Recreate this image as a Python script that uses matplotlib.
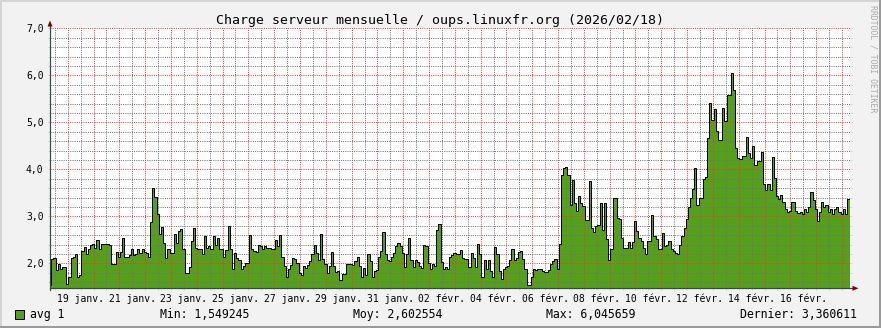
import numpy as np
import matplotlib
matplotlib.use("Agg")
import matplotlib.pyplot as plt
import matplotlib.dates as mdates
from matplotlib.patches import Polygon, Rectangle
from matplotlib.lines import Line2D
from matplotlib.ticker import MultipleLocator, FixedLocator
from datetime import datetime, timedelta

# ---------------- data ----------------
title = "Charge serveur mensuelle / oups.linuxfr.org (2026/02/18)"
series_name = "avg 1"

# 2-hour averages
load_values = [
    1.55, 2.10, 2.12, 1.85, 1.99, 1.89, 1.92, 1.93, 1.57, 1.72,
    2.12, 2.14, 2.20, 1.72, 1.75, 2.26, 2.35, 2.19, 2.30, 2.40,
    2.42, 2.32, 2.50, 2.30, 2.42, 2.42, 2.42, 2.41, 2.40, 1.98,
    1.98, 2.25, 2.14, 2.25, 2.54, 2.14, 2.14, 2.17, 2.30, 2.17,
    2.19, 2.30, 2.23, 2.30, 2.25, 2.23, 2.14, 2.88, 3.60, 3.42,
    3.06, 2.62, 2.78, 2.44, 2.12, 2.30, 2.23, 2.23, 2.62, 2.44,
    2.69, 2.74, 2.30, 1.79, 1.79, 1.92, 2.47, 2.75, 2.33, 2.30,
    2.30, 2.19, 2.59, 2.33, 2.38, 2.30, 2.59, 2.40, 2.54, 2.30,
    2.30, 2.14, 2.28, 2.79, 2.30, 1.87, 2.23, 2.12, 2.07, 1.89,
    1.94, 2.00, 2.01, 2.60, 2.30, 2.26, 2.25, 2.40, 2.38, 2.31,
    2.37, 2.33, 2.33, 2.31, 2.31, 2.49, 2.38, 2.60, 2.14, 1.94,
    1.72, 1.87, 1.96, 2.12, 2.10, 2.00, 1.80, 1.75, 1.94, 1.90,
    1.96, 2.05, 2.21, 2.40, 2.23, 2.08, 2.62, 2.10, 1.98, 1.80,
    1.94, 2.25, 1.94, 1.82, 1.84, 1.64, 1.78, 1.78, 1.99, 1.99,
    1.99, 1.96, 2.06, 2.14, 1.94, 1.72, 1.90, 1.75, 2.20, 2.05,
    1.70, 1.84, 1.86, 2.14, 2.26, 2.67, 2.20, 2.07, 2.05, 2.14,
    2.23, 2.37, 2.44, 2.37, 2.23, 1.93, 2.19, 2.54, 2.08, 1.93,
    2.07, 2.03, 1.94, 1.91, 2.39, 2.37, 2.01, 1.89, 1.99, 1.94,
    2.72, 2.84, 2.03, 1.87, 1.92, 1.89, 2.13, 2.18, 2.23, 2.21,
    2.21, 2.28, 2.12, 2.10, 2.10, 1.93, 2.23, 2.12, 1.93, 2.42,
    2.19, 1.72, 2.08, 1.89, 2.08, 1.84, 1.70, 2.35, 2.21, 1.84,
    1.66, 1.87, 1.93, 1.94, 2.07, 2.30, 2.08, 2.12, 2.25, 2.26,
    2.10, 1.87, 1.549, 1.55, 1.70, 1.87, 1.86, 1.87, 1.87, 1.84,
    1.82, 1.82, 1.85, 1.98, 2.06, 2.10, 1.89, 2.42, 3.89, 4.03,
    4.05, 3.89, 3.25, 3.77, 3.29, 3.11, 3.43, 3.29, 3.22, 2.93,
    2.93, 3.75, 2.76, 2.67, 2.79, 2.81, 3.29, 2.72, 3.29, 2.52,
    2.08, 2.30, 3.39, 3.39, 2.97, 2.95, 2.54, 2.33, 2.33, 2.45,
    2.33, 2.45, 2.90, 2.69, 2.54, 2.47, 2.33, 2.19, 2.47, 2.47,
    3.02, 2.59, 2.52, 2.31, 2.30, 2.64, 2.37, 2.40, 2.47, 2.31,
    2.26, 2.23, 2.21, 2.40, 2.58, 2.75, 2.95, 3.20, 3.40, 3.59,
    4.03, 3.25, 3.38, 3.38, 3.80, 3.84, 4.67, 5.41, 5.04, 5.28,
    4.82, 4.63, 4.63, 5.30, 5.02, 5.59, 5.59, 6.046, 5.69, 4.46,
    4.24, 4.22, 4.29, 4.29, 4.69, 4.35, 4.24, 4.49, 4.10, 4.17,
    4.17, 4.36, 3.68, 3.56, 3.68, 3.56, 4.26, 3.82, 3.43, 3.37,
    3.46, 3.30, 3.15, 3.10, 3.12, 3.30, 3.30, 3.12, 3.08, 3.10,
    3.05, 3.15, 3.10, 3.20, 3.51, 3.35, 3.15, 2.90, 3.10, 3.30,
    3.20, 3.25, 3.10, 3.15, 3.05, 3.15, 3.20, 3.10, 3.05, 3.15,
    3.05, 3.36, 3.36,
]
series_start = datetime(2026, 1, 18, 6, 40)
step_hours = 2
view_start = datetime(2026, 1, 18, 7, 30)
view_end = datetime(2026, 2, 18, 7, 30)

x_label_days = [datetime(2026, 1, 19) + timedelta(days=2 * k) for k in range(15)]
x_label_texts = ["19 janv.", "21 janv.", "23 janv.", "25 janv.", "27 janv.",
                 "29 janv.", "31 janv.", "02 févr.", "04 févr.", "06 févr.",
                 "08 févr.", "10 févr.", "12 févr.", "14 févr.", "16 févr."]
y_ticks = [2, 3, 4, 5, 6, 7]
y_tick_labels = ["2,0", "3,0", "4,0", "5,0", "6,0", "7,0"]
y_range = (1.47, 7.0)

stat_names = ["Min:", "Moy:", "Max:", "Dernier:"]
stat_values = ["1,549245", "2,602554", "6,045659", "3,360611"]

# ---------------- styling ----------------
W, H = 881, 328
MONO = "DejaVu Sans Mono"
GREEN = "#54A01C"
BACK = "#F2F2F2"
AXIS = "#2C4D43"
ARROW = "#7F0000"
PX = 72 / 100  # one pixel in points

def fx(px):
    return px / W

def fy(py):
    return 1 - py / H

fig = plt.figure(figsize=(W / 100, H / 100), dpi=100)
fig.patch.set_facecolor(BACK)

# 3D-ish border
fig.add_artist(Rectangle((0, fy(2)), 1, 2 / H, transform=fig.transFigure, color="#D4D4D4", lw=0))
fig.add_artist(Rectangle((0, 0), 2 / W, 1, transform=fig.transFigure, color="#D4D4D4", lw=0))
fig.add_artist(Rectangle((0, 0), 1, 2 / H, transform=fig.transFigure, color="#9A9A9A", lw=0))
fig.add_artist(Rectangle((fx(W - 2), 0), 2 / W, 1, transform=fig.transFigure, color="#9A9A9A", lw=0))

plot_left, plot_right = 50, 850
plot_top, plot_bottom = 28.3, 288.3
ax = fig.add_axes([fx(plot_left), fy(plot_bottom), (plot_right - plot_left) / W,
                   (plot_bottom - plot_top) / H])
ax.set_facecolor("white")

t0 = mdates.date2num(series_start)
step = step_hours / 24.0
edges = t0 + step * np.arange(len(load_values) + 1)
vals = np.array(load_values)

ax.stairs(vals, edges, baseline=0, fill=True, color=GREEN, lw=0, zorder=1)
ax.stairs(vals, edges, baseline=None, color="black", lw=1.0 * PX, zorder=3)

ax.set_xlim(mdates.date2num(view_start), mdates.date2num(view_end))
ax.set_ylim(*y_range)

# grid
ax.xaxis.set_major_locator(mdates.DayLocator())
ax.xaxis.set_minor_locator(mdates.HourLocator(byhour=[12]))
ax.yaxis.set_major_locator(FixedLocator(y_ticks))
ax.yaxis.set_minor_locator(MultipleLocator(0.2))
ax.set_yticklabels(y_tick_labels, fontfamily=MONO, fontsize=7)
ax.set_axisbelow(False)
major_c = (1.0, 0.2, 0.2, 0.24)
minor_c = (0.45, 0.45, 0.45, 0.24)
ax.grid(which="major", color=major_c, linestyle=(0, (1, 1.2)), linewidth=PX, snap=True)
ax.grid(which="minor", color=minor_c, linestyle=(0, (1, 1.2)), linewidth=PX, snap=True)
ax.tick_params(which="major", direction="out", length=2 * PX, width=PX, color=major_c,
               left=True, right=True, bottom=True, top=False, labelbottom=False,
               pad=3.2)
ax.tick_params(which="minor", direction="out", length=2 * PX, width=PX, color=minor_c,
               left=True, right=True, bottom=True, top=False)
for lab in ax.get_yticklabels():
    lab.set_color("black")

for s in ["top", "right", "left", "bottom"]:
    ax.spines[s].set_visible(False)

# axes lines with arrows
fig.add_artist(Line2D([fx(plot_left), fx(854)], [fy(plot_bottom), fy(plot_bottom)],
                      transform=fig.transFigure, color=AXIS, lw=PX * 1.2, zorder=5))
fig.add_artist(Line2D([fx(plot_left), fx(plot_left)], [fy(plot_bottom + 2), fy(25)],
                      transform=fig.transFigure, color=AXIS, lw=PX * 1.2, zorder=5))
fig.add_artist(Polygon([[fx(47.5), fy(26.5)], [fx(52.5), fy(26.5)], [fx(50), fy(20.5)]],
                       closed=True, transform=fig.transFigure, color=ARROW, lw=0, zorder=6))
fig.add_artist(Polygon([[fx(852.5), fy(285.8)], [fx(852.5), fy(290.8)], [fx(858.5), fy(288.3)]],
                       closed=True, transform=fig.transFigure, color=ARROW, lw=0, zorder=6))

# x labels centred at noon
for d, txt in zip(x_label_days, x_label_texts):
    xn = mdates.date2num(d + timedelta(hours=12))
    xpix = plot_left + (xn - mdates.date2num(view_start)) / (
        mdates.date2num(view_end) - mdates.date2num(view_start)) * (plot_right - plot_left)
    fig.text(fx(xpix), fy(301.7), txt, ha="center", va="baseline",
             fontfamily=MONO, fontsize=7, color="black")

# title
fig.text(fx(440.5), fy(24.2), title, ha="center", va="baseline",
         fontfamily=MONO, fontsize=9.5, color="black")

# vertical tag
fig.text(fx(872.5), fy(5), "RRDTOOL / TOBI OETIKER", rotation=270, ha="center", va="top",
         fontfamily=MONO, fontsize=5.9, color="#AAAAAA")

# legend
fig.add_artist(Rectangle((fx(15), fy(319)), 9 / W, 9.5 / H, transform=fig.transFigure,
                         facecolor=GREEN, edgecolor="black", lw=PX))
fig.text(fx(30), fy(318), series_name, ha="left", va="baseline",
         fontfamily=MONO, fontsize=8.3, color="black")
stat_x = [160, 353, 546.5, 739.5]
for sx, n, v in zip(stat_x, stat_names, stat_values):
    fig.text(fx(sx), fy(318), f"{n} {v}", ha="left", va="baseline",
             fontfamily=MONO, fontsize=8.3, color="black")

fig.savefig("out.png", dpi=100, facecolor=BACK)
